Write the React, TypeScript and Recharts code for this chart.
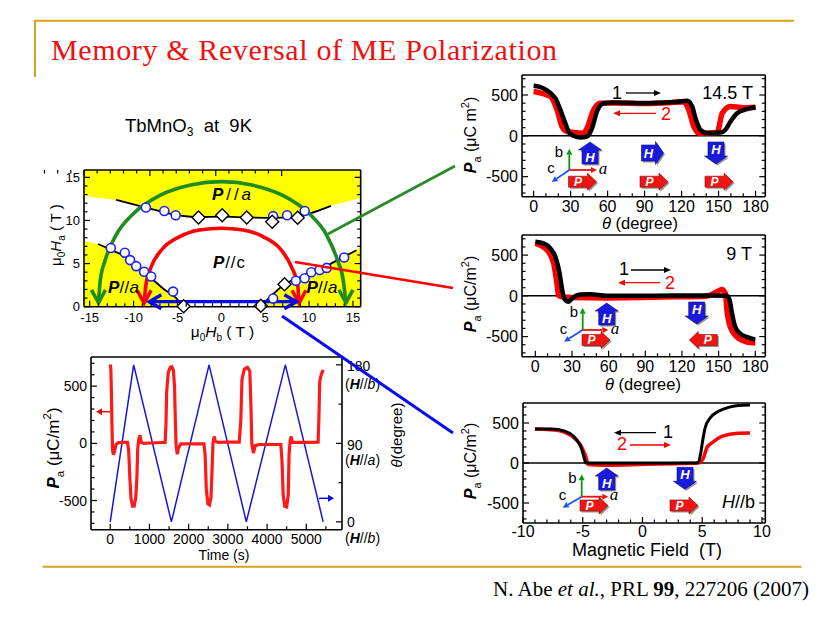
import React from "react";
import { ComposedChart, Line, Area, Scatter, XAxis, YAxis, ReferenceLine } from "recharts";

type Pt = [number, number];
type Box = { l: number; t: number; r: number; b: number };

const SANS = '"Liberation Sans", Arial, sans-serif';
const SERIF = '"Liberation Serif", "Times New Roman", serif';
const GOLD = "#D8A31A";

// ---------- phase diagram of TbMnO3 at 9 K ----------
const hbTicks = [-15, -14, -13, -12, -11, -10, -9, -8, -7, -6, -5, -4, -3, -2, -1, 0, 1, 2, 3, 4, 5, 6, 7, 8, 9, 10, 11, 12, 13, 14, 15];
const hbMajor = [-15, -10, -5, 0, 5, 10, 15];
const haTicks = [0, 1, 2, 3, 4, 5, 6, 7, 8, 9, 10, 11, 12, 13, 14, 15];
const haMajor = [0, 5, 10, 15];

const yellowX = [-15.65, -14.05, -12.6, -12, -11, -9.7, -8.6, -8, -6.5, -5.2, -4.37, -2.6, 0, 2.9, 4.4, 5.8, 7.2, 8.7, 10.2, 12.5, 14, 15.88];
const yellowTop = [12.9, 12.6, 12.45, 12.35, 12.05, 11.75, 11.5, 11.3, 10.95, 10.65, 10.55, 10.4, 10.45, 10.35, 10.3, 10.3, 10.4, 10.45, 10.85, 11.7, 12.1, 12.6];
const yellowLeft = [7.6, 7.27, 6.6, 6.3, 5.8, 4.6, 3.8, 3.3, 2.0, 1.05, 0, null, null, null, null, null, null, null, null, null, null, null];
const yellowRight = [null, null, null, null, null, null, null, null, null, null, null, null, null, null, 0, 1.35, 2.6, 3.3, 3.95, 5.0, 5.8, 6.9];

const phaseUpper: Pt[] = [[-12, 12.4], [-8.6, 11.5], [-5.2, 10.65], [-2.6, 10.4], [0, 10.45], [2.9, 10.35], [5.8, 10.3], [8.7, 10.45], [10.2, 10.85], [12.5, 11.7]];
const phaseLeft: Pt[] = [[-14.05, 7.27], [-12.6, 6.6], [-11, 5.8], [-9.7, 4.6], [-8, 3.3], [-6.5, 2.0], [-5.2, 1.05], [-4.37, 0]];
const phaseRight: Pt[] = [[4.4, 0], [5.8, 1.35], [7.2, 2.6], [8.7, 3.3], [10.2, 3.95], [12.5, 5.0], [14, 5.8], [15.4, 6.55]];

const phaseCircles: Pt[] = [
  [-8.6, 11.5], [-6.5, 11.1], [-5.2, 10.6], [5.9, 10.5], [7.5, 10.6], [9.5, 11.1],
  [-12.6, 6.8], [-11.0, 6.25], [-10.4, 5.4], [-9.7, 4.7], [-8.8, 4.05], [-8.0, 3.5], [-5.5, 1.75],
  [5.9, 0.95], [8.5, 3.0], [9.5, 3.3], [10.25, 4.0], [11.2, 4.25], [12.0, 4.5], [14.0, 5.7],
];
const phaseDiamonds: Pt[] = [
  [-2.6, 10.35], [0.1, 10.6], [2.9, 10.35], [5.8, 9.85], [8.7, 10.3],
  [-4.3, 0.05], [4.5, 0.1], [7.2, 2.6],
];

const greenArc: Pt[] = [[-14.0, 0.45], [-13.8, 3], [-13.2, 5.5], [-12, 8.3], [-10, 10.8], [-7, 12.9], [-3.5, 14.1], [0, 14.5], [3.5, 14.1], [7, 12.9], [10, 10.8], [12, 8.3], [13.2, 5.5], [13.9, 3], [14.2, 0.45]];
const redArc: Pt[] = [[-8.8, 0.4], [-8.6, 2.5], [-8, 4.6], [-6.8, 6.6], [-4.8, 8.1], [-2.5, 8.9], [0, 9.1], [2.5, 8.9], [4.8, 8.1], [6.8, 6.6], [8, 4.6], [8.7, 2.5], [8.85, 0.4]];
const blueSweep: Pt[] = [[-8.2, 0.58], [8.55, 0.58]];

// ---------- time sequence ----------
const timeTicks = [0, 500, 1000, 1500, 2000, 2500, 3000, 3500, 4000, 4500, 5000, 5500];
const timeMajor = [0, 1000, 2000, 3000, 4000, 5000];
const paTicks = [-700, -600, -500, -400, -300, -200, -100, 0, 100, 200, 300, 400, 500, 600, 700];
const paMajor = [-500, 0, 500];
const angleTicks = [0, 45, 90, 135, 180];
const angleMajor = [0, 90, 180];

const timePa: Pt[] = [
  [0, 690], [15, 660], [30, 450], [45, 150], [60, -60], [80, -100], [110, -70], [150, -10], [200, 5], [300, 8], [440, 8],
  [470, -60], [500, -300], [530, -480], [570, -550], [610, -550], [650, -480], [680, -300], [700, -50], [730, 40], [760, 70], [790, 10], [850, 0],
  [1000, 3], [1200, 5], [1400, 8], [1420, 150], [1440, 450], [1480, 620], [1530, 665], [1570, 670], [1610, 640], [1640, 500], [1660, 200], [1680, -20], [1710, -95], [1740, -40], [1800, -5],
  [2000, -5], [2390, -5], [2420, -100], [2450, -400], [2490, -530], [2530, -540], [2570, -470], [2600, -200], [2620, 0], [2650, 60], [2680, 20], [2750, 8],
  [3000, 10], [3290, 10], [3330, 200], [3360, 560], [3420, 650], [3500, 665], [3560, 630], [3590, 300], [3610, 0], [3650, -85], [3700, -20], [3800, -10],
  [4000, -10], [4350, -10], [4380, -150], [4410, -450], [4450, -550], [4500, -555], [4540, -450], [4560, -100], [4590, 30], [4615, 60], [4640, 10], [4800, 8],
  [5000, 8], [5300, 10], [5320, 200], [5342, 540], [5380, 600], [5430, 643],
];
const timeTheta: Pt[] = [[0, 0], [598, 180], [1560, 0], [2520, 180], [3470, 0], [4465, 180], [5430, 0]];

// ---------- angle sweeps at 14.5 T and 9 T ----------
const thetaTicks = [0, 10, 20, 30, 40, 50, 60, 70, 80, 90, 100, 110, 120, 130, 140, 150, 160, 170, 180];
const thetaMajor = [0, 30, 60, 90, 120, 150, 180];

const p14Black: Pt[] = [[0, 613], [5, 600], [10.8, 556], [15, 505], [17.6, 462], [21.7, 319], [25.7, 155], [28.4, 53], [32.5, 0], [37.9, -20], [43.3, -8], [47.4, 94], [51.4, 298], [56.8, 400], [65, 408], [86.6, 400], [100, 405], [113.7, 413], [124.5, 429], [128.6, 360], [131.3, 216], [135.3, 74], [140.7, 33], [151.6, 41], [155.6, 74], [159.7, 176], [165, 278], [173, 327], [180, 351]];
const p14Red: Pt[] = [[0, 543], [13.5, 482], [19, 319], [23, 114], [27, 53], [32.5, 41], [40.6, 33], [43.3, 94], [48.7, 319], [54, 400], [65, 402], [90, 395], [110, 405], [122, 418], [125.8, 319], [130, 114], [134, 33], [148.8, 40], [153, 278], [159.7, 360], [170, 345], [180, 351]];

const p9Black: Pt[] = [[0, 664], [6.8, 644], [12.3, 582], [16.4, 480], [19.9, 275], [21.8, 90], [23.7, -33], [27.3, -74], [30, -33], [36.8, 16], [45, 20], [58.6, 0], [86, 0], [113, 4], [140, 4], [156.8, 0], [159, -53], [161, -217], [163.6, -381], [167.7, -463], [173, -504], [180, -537]];
const p9Red: Pt[] = [[0, 644], [9.5, 562], [15, 398], [17.7, 152], [19, 8], [21.8, -12], [31, -20], [58.6, -25], [86, -20], [113, -12], [140, -4], [148.6, 49], [152.7, 78], [155.5, 29], [156.8, -176], [159.5, -381], [165, -504], [173, -566], [180, -578]];

// ---------- field sweep H // b ----------
const fieldTicks = [-10, -9, -8, -7, -6, -5, -4, -3, -2, -1, 0, 1, 2, 3, 4, 5, 6, 7, 8, 9, 10];
const fieldMajor = [-10, -5, 0, 5, 10];
const hBlack: Pt[] = [[-9, 425], [-7.6, 425], [-6.5, 398], [-5.77, 335], [-5.36, 255], [-5.08, 170], [-4.88, 65], [-4.75, 0], [0, 0], [2.45, 0], [4.65, 3], [4.88, 125], [5.05, 292], [5.24, 437], [5.66, 562], [6.36, 646], [7.2, 696], [8.0, 718], [9, 725]];
const hRed: Pt[] = [[-9, 425], [-7.3, 412], [-5.9, 335], [-5.2, 230], [-4.8, 104], [-4.5, -20], [-3.1, -28], [-0.3, -20], [2.45, -8], [4.69, 0], [5.1, 62], [5.38, 187], [5.8, 250], [6.64, 333], [8.0, 372], [9, 375]];

const rows = (pts: Pt[]) => pts.map(([x, y]) => ({ x, y }));
const yellowRows = yellowX.map((x, i) => ({ x, top: yellowTop[i], left: yellowLeft[i], right: yellowRight[i] }));

// ---------- axis frame helpers ----------
type Side = "bottom" | "top" | "left" | "right";
const tickFn = (side: Side, majors: number[], labels: boolean, font: number, off: number) => (p: any) => {
  const v = p.payload.value;
  const x = p.x, y = p.y;
  const major = majors.includes(v);
  const len = major ? 6 : 3.5;
  let c = [x, y, x, y - len];
  if (side === "top") c = [x, y, x, y + len];
  if (side === "left") c = [x, y, x + len, y];
  if (side === "right") c = [x, y, x - len, y];
  let label = null;
  if (labels && major) {
    label = side === "bottom"
      ? <text x={x} y={y + off} textAnchor="middle" fontSize={font} fontFamily={SANS} fill="#000">{String(v)}</text>
      : <text x={x - off} y={y} dy="0.36em" textAnchor="end" fontSize={font} fontFamily={SANS} fill="#000">{String(v)}</text>;
  }
  return (
    <g>
      <line x1={c[0]} y1={c[1]} x2={c[2]} y2={c[3]} stroke="#000" strokeWidth={1.2} />
      {label}
    </g>
  );
};

interface Frame {
  xDomain: [number, number];
  yDomain: [number, number];
  y2Domain?: [number, number];
  xTicks: number[];
  xMajor: number[];
  yTicks: number[];
  yMajor: number[];
  y2Ticks?: number[];
  y2Major?: number[];
  font: number;
  xOff: number;
  yOff: number;
  keepData?: boolean;
}

// axes are 1px thick so recharts still draws them; Plot takes that pixel off the margins
function frameAxes(f: Frame) {
  const axisLine = { stroke: "#000", strokeWidth: 1.6 };
  return [
    <XAxis key="xb" xAxisId="b" dataKey="x" type="number" height={1} interval={0} tickSize={0} tickMargin={0} tickLine={false} axisLine={axisLine}
      domain={f.xDomain} allowDataOverflow={!f.keepData} ticks={f.xTicks} tick={tickFn("bottom", f.xMajor, true, f.font, f.xOff)} />,
    <XAxis key="xt" xAxisId="t" orientation="top" type="number" height={1} interval={0} tickSize={0} tickMargin={0} tickLine={false} axisLine={axisLine}
      domain={f.xDomain} allowDataOverflow ticks={f.xTicks} tick={tickFn("top", f.xMajor, false, f.font, 0)} />,
    <YAxis key="yl" yAxisId="l" dataKey="y" type="number" width={1} interval={0} tickSize={0} tickMargin={0} tickLine={false} axisLine={axisLine}
      domain={f.yDomain} allowDataOverflow={!f.keepData} ticks={f.yTicks} tick={tickFn("left", f.yMajor, true, f.font, f.yOff)} />,
    <YAxis key="yr" yAxisId="r" orientation="right" type="number" width={1} interval={0} tickSize={0} tickMargin={0} tickLine={false} axisLine={axisLine}
      domain={f.y2Domain ?? f.yDomain} allowDataOverflow ticks={f.y2Ticks ?? f.yTicks} tick={tickFn("right", f.y2Major ?? f.yMajor, false, f.font, 0)} />,
  ];
}

function Plot({ box, frame, data, children }: { box: Box; frame: Frame; data?: any[]; children?: React.ReactNode }) {
  const m = { top: 12, right: 14, bottom: 40, left: 52 };
  const w = box.r - box.l + m.left + m.right;
  const h = box.b - box.t + m.top + m.bottom;
  const margin = { top: m.top - 1, right: m.right - 1, bottom: m.bottom - 1, left: m.left - 1 };
  return (
    <div style={{ position: "absolute", left: box.l - m.left, top: box.t - m.top, width: w, height: h }}>
      <ComposedChart width={w} height={h} margin={margin} data={data}>
        {frameAxes(frame)}
        {children}
      </ComposedChart>
    </div>
  );
}

const arcHeads = (color: string, last: number, kind: "down" | "side") => (p: any) => {
  const { cx, cy, index } = p;
  if (index !== 0 && index !== last) return <g key={index} />;
  let d = `M${cx - 7},${cy - 13} L${cx},${cy} L${cx + 7},${cy - 13}`;
  if (kind === "side") {
    const s = index === 0 ? 1 : -1;
    d = `M${cx + s * 12},${cy - 7} L${cx},${cy} L${cx + s * 12},${cy + 7}`;
  }
  return <path key={index} d={d} fill="none" stroke={color} strokeWidth={3.6} strokeLinejoin="miter" />;
};

const circleShape = (p: any) => <circle cx={p.cx} cy={p.cy} r={4.5} fill="#fff" stroke="#1E1EFF" strokeWidth={1.6} />;
const diamondShape = (p: any) => (
  <path d={`M${p.cx},${p.cy - 6.5} L${p.cx + 6.5},${p.cy} L${p.cx},${p.cy + 6.5} L${p.cx - 6.5},${p.cy} Z`} fill="#fff" stroke="#000" strokeWidth={1.4} />
);

// ---------- overlay helpers ----------
function ArrowLine({ x1, y1, x2, y2, color, w = 1.3, head = 7, hw = 3 }: { x1: number; y1: number; x2: number; y2: number; color: string; w?: number; head?: number; hw?: number }) {
  const dx = x2 - x1, dy = y2 - y1, L = Math.hypot(dx, dy);
  const ux = dx / L, uy = dy / L;
  const bx = x2 - ux * head, by = y2 - uy * head;
  return (
    <g>
      <line x1={x1} y1={y1} x2={bx} y2={by} stroke={color} strokeWidth={w} />
      <polygon points={`${x2},${y2} ${bx - uy * hw},${by + ux * hw} ${bx + uy * hw},${by - ux * hw}`} fill={color} />
    </g>
  );
}

const ANG: Record<string, number> = { r: 0, l: 180, u: -90, d: 90 };
function BlockArrow({ cx, cy, dir, kind }: { cx: number; cy: number; dir: string; kind: "H" | "P" }) {
  const isH = kind === "H";
  const L = isH ? 22 : 28, s = isH ? 8 : 5.5, w = isH ? 11.5 : 8.5, h = isH ? 8 : 9;
  const pts = [[-L / 2, -s], [L / 2 - h, -s], [L / 2 - h, -w], [L / 2, 0], [L / 2 - h, w], [L / 2 - h, s], [-L / 2, s]].map((q) => q.join(",")).join(" ");
  const a = ANG[dir];
  const rad = (a * Math.PI) / 180;
  const lx = cx - Math.cos(rad) * (h / 2), ly = cy - Math.sin(rad) * (h / 2);
  return (
    <g>
      <polygon points={pts} transform={`translate(${cx + 1.5},${cy + 1.5}) rotate(${a})`} fill="#444" opacity={0.55} />
      <polygon points={pts} transform={`translate(${cx},${cy}) rotate(${a})`} fill={isH ? "#1A1ADC" : "#EE1515"} stroke={isH ? "#0A0A80" : "#900"} strokeWidth={0.6} />
      <text x={lx} y={ly} dy="0.36em" textAnchor="middle" fill="#fff" fontWeight="bold" fontStyle="italic" fontSize={isH ? 13 : 12} fontFamily={SANS}>{kind}</text>
    </g>
  );
}

function Triad({ ox, oy, b, a, c, lb, la, lc }: { ox: number; oy: number; b: Pt; a: Pt; c: Pt; lb: Pt; la: Pt; lc: Pt }) {
  return (
    <g>
      <ArrowLine x1={ox} y1={oy} x2={b[0]} y2={b[1]} color="#0A9A0A" w={1.8} head={6} hw={3} />
      <ArrowLine x1={ox} y1={oy} x2={a[0]} y2={a[1]} color="#F01010" w={1.8} head={6} hw={3} />
      <ArrowLine x1={ox} y1={oy} x2={c[0]} y2={c[1]} color="#1E50F0" w={1.8} head={6} hw={3} />
      <text x={lb[0]} y={lb[1]} fontSize={15} fontFamily={SANS} textAnchor="middle">b</text>
      <text x={lc[0]} y={lc[1]} fontSize={15} fontFamily={SANS} textAnchor="middle">c</text>
      <text x={la[0]} y={la[1]} fontSize={17} fontFamily={SERIF} fontStyle="italic" textAnchor="middle">a</text>
    </g>
  );
}

function PaLabel({ x, y, fs, slash }: { x: number; y: number; fs: number; slash: boolean }) {
  return (
    <text transform={`translate(${x},${y}) rotate(-90)`} textAnchor="middle" fontSize={fs} fontFamily={SANS}>
      <tspan fontWeight="bold" fontStyle="italic">P</tspan>
      <tspan fontSize={fs * 0.68} dy={fs * 0.3}>a</tspan>
      <tspan dy={-fs * 0.3}>{slash ? " (μC/m" : " (μC m"}</tspan>
      <tspan fontSize={fs * 0.68} dy={-fs * 0.45}>2</tspan>
      <tspan dy={fs * 0.45}>)</tspan>
    </text>
  );
}

function PhaseTag({ x, y, letter, len }: { x: number; y: number; letter: string; len: number }) {
  return (
    <text x={x} y={y} fontSize={17} fontFamily={SANS} textLength={len} lengthAdjust="spacing">
      <tspan fontWeight="bold" fontStyle="italic">P</tspan>
      <tspan>//</tspan>
      <tspan fontStyle={letter === "a" ? "italic" : "normal"}>{letter}</tspan>
    </text>
  );
}

function HTag({ x, y, letter }: { x: number; y: number; letter: string }) {
  return (
    <text x={x} y={y} fontSize={14} fontFamily={SANS}>
      (<tspan fontWeight="bold" fontStyle="italic">H</tspan>//<tspan fontStyle="italic">{letter}</tspan>)
    </text>
  );
}

// ---------- frames ----------
const phaseBox: Box = { l: 84.3, t: 170, r: 361, b: 306.7 };
const phaseFrame: Frame = { xDomain: [-15.65, 15.88], yDomain: [0, 15.85], xTicks: hbTicks, xMajor: hbMajor, yTicks: haTicks, yMajor: haMajor, font: 13, xOff: 15, yOff: 4, keepData: true };

const timeBox: Box = { l: 90.7, t: 357.3, r: 341.7, b: 530 };
const timeFrame: Frame = {
  xDomain: [-490, 5910], yDomain: [-755, 755], y2Domain: [-9, 189], xTicks: timeTicks, xMajor: timeMajor, yTicks: paTicks, yMajor: paMajor,
  y2Ticks: angleTicks, y2Major: angleMajor, font: 14, xOff: 14, yOff: 4,
};

const p14Box: Box = { l: 521.7, t: 75, r: 765, b: 196.7 };
const p14Frame: Frame = { xDomain: [-9.42, 187.9], yDomain: [-745, 745], xTicks: thetaTicks, xMajor: thetaMajor, yTicks: paTicks, yMajor: paMajor, font: 16, xOff: 15, yOff: 4 };
const p9Box: Box = { l: 521.7, t: 235, r: 765, b: 356.7 };
const p9Frame: Frame = { xDomain: [-10.9, 188.2], yDomain: [-747, 747], xTicks: thetaTicks, xMajor: thetaMajor, yTicks: paTicks, yMajor: paMajor, font: 16, xOff: 15, yOff: 4 };
const hBox: Box = { l: 522.7, t: 403.3, r: 765, b: 523.3 };
const hFrame: Frame = { xDomain: [-10, 10.28], yDomain: [-750, 750], xTicks: fieldTicks, xMajor: fieldMajor, yTicks: paTicks, yMajor: paMajor, font: 16, xOff: 14, yOff: 4 };

const AX = { xAxisId: "b", yAxisId: "l" };

export default function App() {
  return (
    <div style={{ position: "absolute", left: 0, top: 0, width: 840, height: 630, background: "#fff", overflow: "hidden", fontFamily: SANS }}>
      <Plot box={phaseBox} frame={phaseFrame} data={yellowRows}>
        <Area {...AX} type="linear" dataKey={(d: any) => (d.top == null ? null : [d.top, 15.85])} stroke="none" fill="#FFFF00" fillOpacity={1} isAnimationActive={false} />
        <Area {...AX} type="linear" dataKey={(d: any) => (d.left == null ? null : [0, d.left])} stroke="none" fill="#FFFF00" fillOpacity={1} isAnimationActive={false} />
        <Area {...AX} type="linear" dataKey={(d: any) => (d.right == null ? null : [0, d.right])} stroke="none" fill="#FFFF00" fillOpacity={1} isAnimationActive={false} />
        <Line {...AX} data={rows(phaseUpper)} dataKey="y" type="monotone" stroke="#000" strokeWidth={1.8} dot={false} isAnimationActive={false} />
        <Line {...AX} data={rows(phaseLeft)} dataKey="y" type="monotone" stroke="#000" strokeWidth={1.8} dot={false} isAnimationActive={false} />
        <Line {...AX} data={rows(phaseRight)} dataKey="y" type="monotone" stroke="#000" strokeWidth={1.8} dot={false} isAnimationActive={false} />
        <Line {...AX} data={rows(greenArc)} dataKey="y" type="monotone" stroke="#1E8C1E" strokeWidth={3.6} dot={arcHeads("#1E8C1E", greenArc.length - 1, "down")} isAnimationActive={false} />
        <Line {...AX} data={rows(redArc)} dataKey="y" type="monotone" stroke="#FF0000" strokeWidth={3.6} dot={arcHeads("#FF0000", redArc.length - 1, "down")} isAnimationActive={false} />
        <Line {...AX} data={rows(blueSweep)} dataKey="y" type="linear" stroke="#0A0AF0" strokeWidth={3.2} dot={arcHeads("#0A0AF0", blueSweep.length - 1, "side")} isAnimationActive={false} />
        <Scatter {...AX} data={rows(phaseCircles)} dataKey="y" shape={circleShape} isAnimationActive={false} />
        <Scatter {...AX} data={rows(phaseDiamonds)} dataKey="y" shape={diamondShape} isAnimationActive={false} />
      </Plot>

      <Plot box={timeBox} frame={timeFrame}>
        <Line xAxisId="b" yAxisId="r" data={rows(timeTheta)} dataKey="y" type="linear" stroke="#1515E0" strokeWidth={1.5} dot={false} isAnimationActive={false} />
        <Line {...AX} data={rows(timePa)} dataKey="y" type="linear" stroke="#FF1A1A" strokeWidth={3.2} dot={false} isAnimationActive={false} />
      </Plot>

      <Plot box={p14Box} frame={p14Frame}>
        <ReferenceLine {...AX} y={0} stroke="#000" strokeWidth={1.5} />
        <Line {...AX} data={rows(p14Red)} dataKey="y" type="monotone" stroke="#FF0000" strokeWidth={5.5} dot={false} isAnimationActive={false} />
        <Line {...AX} data={rows(p14Black)} dataKey="y" type="monotone" stroke="#000" strokeWidth={4.5} dot={false} isAnimationActive={false} />
      </Plot>

      <Plot box={p9Box} frame={p9Frame}>
        <ReferenceLine {...AX} y={0} stroke="#000" strokeWidth={1.5} />
        <Line {...AX} data={rows(p9Red)} dataKey="y" type="monotone" stroke="#FF0000" strokeWidth={5.5} dot={false} isAnimationActive={false} />
        <Line {...AX} data={rows(p9Black)} dataKey="y" type="monotone" stroke="#000" strokeWidth={4.5} dot={false} isAnimationActive={false} />
      </Plot>

      <Plot box={hBox} frame={hFrame}>
        <ReferenceLine {...AX} y={0} stroke="#000" strokeWidth={1.5} />
        <Line {...AX} data={rows(hRed)} dataKey="y" type="monotone" stroke="#FF0000" strokeWidth={3.5} dot={false} isAnimationActive={false} />
        <Line {...AX} data={rows(hBlack)} dataKey="y" type="monotone" stroke="#000" strokeWidth={3} dot={false} isAnimationActive={false} />
      </Plot>

      <svg width={840} height={630} style={{ position: "absolute", left: 0, top: 0, pointerEvents: "none" }}>
        {/* slide frame */}
        <line x1={35} y1={20.7} x2={794} y2={20.7} stroke={GOLD} strokeWidth={2} />
        <line x1={35} y1={20} x2={35} y2={77} stroke={GOLD} strokeWidth={2} />
        <line x1={42.6} y1={566.7} x2={801.5} y2={566.7} stroke={GOLD} strokeWidth={2} />
        <text x={51} y={60} fontSize={30} fontFamily={SERIF} fill="#F01010" textLength={506} lengthAdjust="spacing">Memory &amp; Reversal of ME Polarization</text>
        <text x={809} y={596} fontSize={21} fontFamily={SERIF} textAnchor="end">
          N. Abe <tspan fontStyle="italic">et al.</tspan>, PRL <tspan fontWeight="bold">99</tspan>, 227206 (2007)
        </text>

        {/* phase diagram */}
        <text x={125} y={131.7} fontSize={18.5} fontFamily={SANS} style={{ whiteSpace: "pre" }}>
          TbMnO<tspan fontSize={12} dy={4}>3</tspan><tspan dy={-4}>{"  at  9K"}</tspan>
        </text>
        <text transform="translate(61,235) rotate(-90)" textAnchor="middle" fontSize={15} fontFamily={SANS}>
          μ<tspan fontSize={10} dy={3.5}>0</tspan><tspan dy={-3.5} fontStyle="italic">H</tspan><tspan fontSize={10} dy={3.5}>a</tspan><tspan dy={-3.5}> ( T )</tspan>
        </text>
        <text x={222.5} y={337} textAnchor="middle" fontSize={15.5} fontFamily={SANS}>
          μ<tspan fontSize={10} dy={3.5}>0</tspan><tspan dy={-3.5} fontStyle="italic">H</tspan><tspan fontSize={10} dy={3.5}>b</tspan><tspan dy={-3.5}> ( T )</tspan>
        </text>
        <PhaseTag x={212} y={200} letter="a" len={39} />
        <PhaseTag x={213} y={268} letter="c" len={32} />
        <PhaseTag x={108} y={293} letter="a" len={31} />
        <PhaseTag x={306.5} y={293} letter="a" len={31} />

        {/* time sequence labels */}
        <PaLabel x={59} y={448} fs={17} slash />
        <text x={224} y={560} textAnchor="middle" fontSize={14} fontFamily={SANS}>Time (s)</text>
        <text x={347} y={370.7} fontSize={14} fontFamily={SANS}>180</text>
        <HTag x={345} y={389} letter="b" />
        <text x={347} y={450} fontSize={14} fontFamily={SANS}>90</text>
        <HTag x={345} y={465} letter="a" />
        <text x={347} y={527} fontSize={14} fontFamily={SANS}>0</text>
        <HTag x={345} y={543} letter="b" />
        <text transform="translate(402,435) rotate(-90)" textAnchor="middle" fontSize={15} fontFamily={SANS}>
          <tspan fontStyle="italic">θ</tspan>(degree)
        </text>
        <ArrowLine x1={110} y1={411.7} x2={96} y2={411.7} color="#FF0000" w={1.5} head={6} hw={3.5} />
        <ArrowLine x1={319} y1={498.3} x2={334} y2={498.3} color="#0A0AF0" w={1.5} head={6} hw={3.5} />

        {/* 14.5 T panel */}
        <PaLabel x={476} y={135} fs={16} slash={false} />
        <text x={640} y={229} textAnchor="middle" fontSize={16.5} fontFamily={SANS}><tspan fontStyle="italic">θ</tspan> (degree)</text>
        <text x={753} y={99} textAnchor="end" fontSize={18} fontFamily={SANS}>14.5 T</text>
        <text x={612} y={98.5} fontSize={18} fontFamily={SANS}>1</text>
        <ArrowLine x1={626} y1={93} x2={661} y2={93} color="#000" />
        <text x={661} y={120} fontSize={18} fontFamily={SANS} fill="#FF0000">2</text>
        <ArrowLine x1={656} y1={113.3} x2={613} y2={113.3} color="#FF0000" />
        <Triad ox={569.3} oy={170} b={[569.3, 148.7]} a={[597, 170]} c={[551.7, 182]} lb={[559, 157]} la={[603, 174]} lc={[551, 173]} />
        <BlockArrow cx={590} cy={153} dir="u" kind="H" />
        <BlockArrow cx={652.5} cy={153} dir="r" kind="H" />
        <BlockArrow cx={716} cy={153} dir="d" kind="H" />
        <BlockArrow cx={582.5} cy={181.7} dir="r" kind="P" />
        <BlockArrow cx={654} cy={181.7} dir="r" kind="P" />
        <BlockArrow cx={719} cy={181.7} dir="r" kind="P" />

        {/* 9 T panel */}
        <PaLabel x={476} y={294} fs={16} slash />
        <text x={643} y={390} textAnchor="middle" fontSize={16.5} fontFamily={SANS}><tspan fontStyle="italic">θ</tspan> (degree)</text>
        <text x={752} y={260} textAnchor="end" fontSize={18} fontFamily={SANS}>9 T</text>
        <text x={619} y={275} fontSize={18} fontFamily={SANS}>1</text>
        <ArrowLine x1={631} y1={270} x2={671} y2={270} color="#000" />
        <text x={665} y={289} fontSize={18} fontFamily={SANS} fill="#FF0000">2</text>
        <ArrowLine x1={660} y1={282.7} x2={618} y2={282.7} color="#FF0000" />
        <Triad ox={582.7} oy={330} b={[582.7, 307.7]} a={[608.3, 330]} c={[564, 341.7]} lb={[574, 317]} la={[615, 334]} lc={[563.5, 334]} />
        <BlockArrow cx={606.7} cy={314} dir="u" kind="H" />
        <BlockArrow cx={696.7} cy={313} dir="d" kind="H" />
        <BlockArrow cx={596} cy={340} dir="r" kind="P" />
        <BlockArrow cx={703.3} cy={340} dir="l" kind="P" />

        {/* H // b panel */}
        <PaLabel x={476} y={461} fs={16} slash />
        <text x={647} y={556} textAnchor="middle" fontSize={18} fontFamily={SANS} style={{ whiteSpace: "pre" }}>{"Magnetic Field  (T)"}</text>
        <text x={663} y={438} fontSize={18} fontFamily={SANS}>1</text>
        <ArrowLine x1={656} y1={432.7} x2={614} y2={432.7} color="#000" />
        <text x={617} y={450} fontSize={18} fontFamily={SANS} fill="#FF0000">2</text>
        <ArrowLine x1={630} y1={445} x2={671} y2={445} color="#FF0000" />
        <text x={755} y={508} textAnchor="end" fontSize={18} fontFamily={SANS}>
          <tspan fontStyle="italic">H</tspan>//b
        </text>
        <Triad ox={581.7} oy={496.7} b={[581.7, 474.3]} a={[608.3, 496.7]} c={[562.7, 507.7]} lb={[572.5, 483]} la={[614, 500]} lc={[562.5, 500]} />
        <BlockArrow cx={606.7} cy={479} dir="u" kind="H" />
        <BlockArrow cx={685} cy={478.3} dir="d" kind="H" />
        <BlockArrow cx={594} cy={505.5} dir="r" kind="P" />
        <BlockArrow cx={684} cy={505.5} dir="r" kind="P" />

        {/* connectors */}
        <line x1={328} y1={234} x2={455} y2={166} stroke="#2A8A2A" strokeWidth={2.6} />
        <line x1={295} y1={262} x2={453} y2={288} stroke="#FF0000" strokeWidth={2.6} />
        <line x1={282} y1={316} x2={453} y2={433} stroke="#0A0AF0" strokeWidth={3} />
      </svg>
    </div>
  );
}
